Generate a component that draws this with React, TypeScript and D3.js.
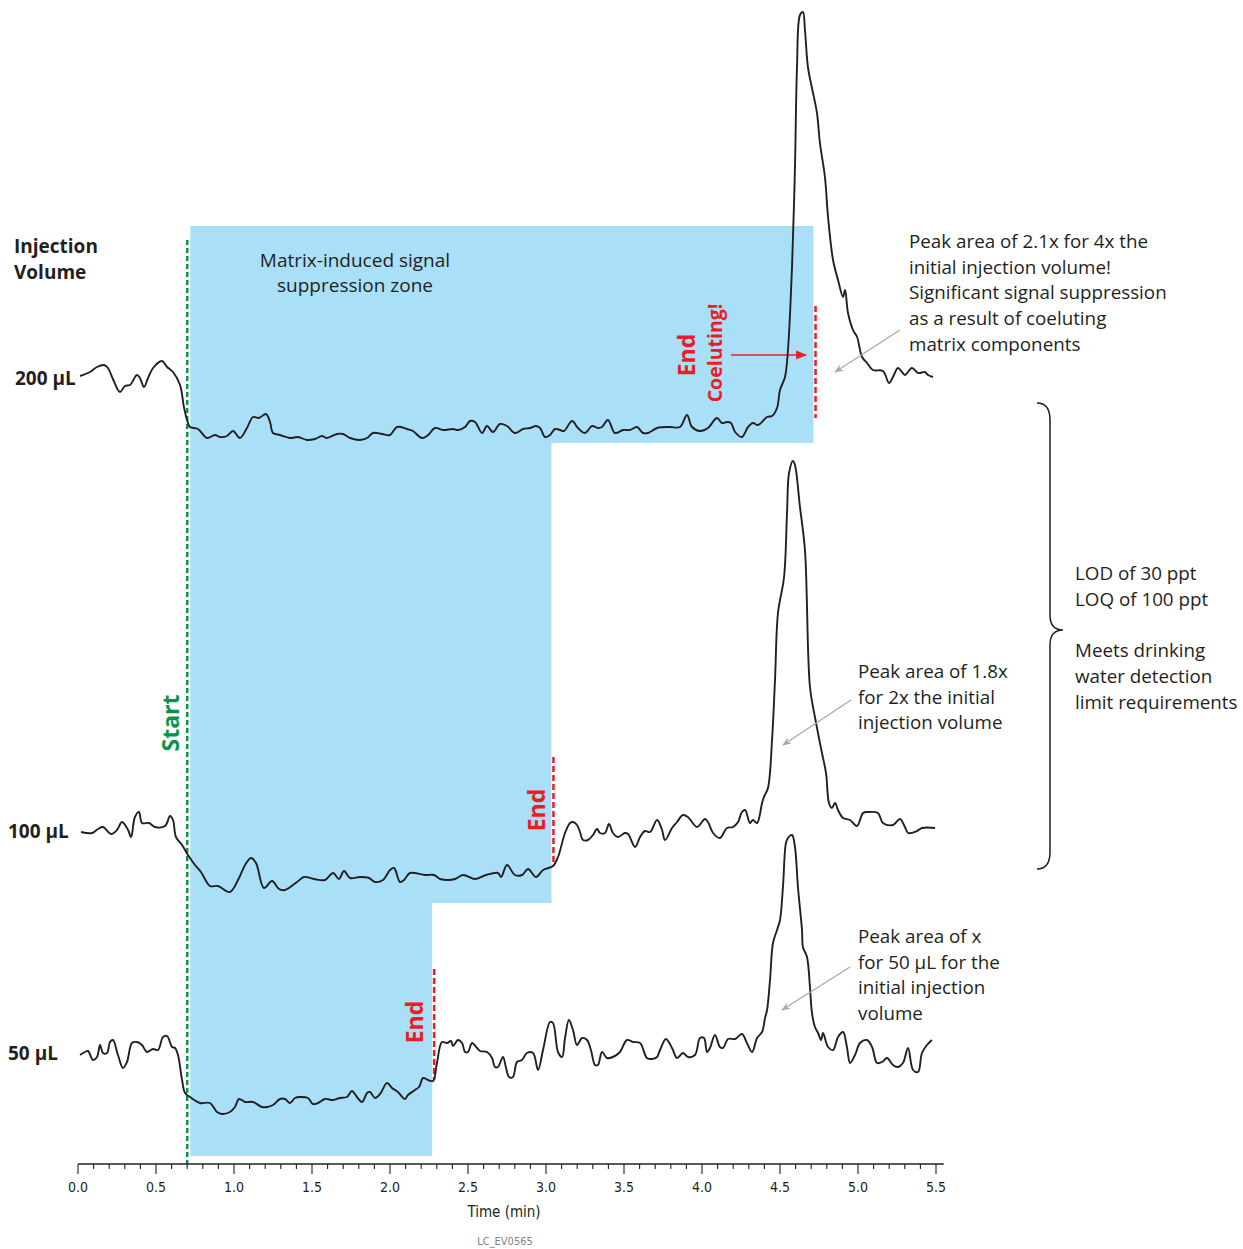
import React from "react";
import * as d3 from "d3";

// time (min), signal (arbitrary units)
const trace200: [number, number][] = [
  [0.013, 69], [0.077, 73], [0.122, 78], [0.167, 80], [0.192, 77], [0.224, 66], [0.269, 53], [0.301, 59],
  [0.333, 60], [0.378, 70], [0.397, 67], [0.423, 58], [0.449, 67], [0.481, 77], [0.538, 84], [0.571, 78],
  [0.609, 73], [0.654, 60], [0.679, 38], [0.699, 25], [0.718, 18], [0.769, 16], [0.827, 7], [0.878, 10],
  [0.91, 8], [0.955, 9], [0.994, 14], [1.038, 7], [1.083, 17], [1.122, 28], [1.16, 27], [1.205, 31],
  [1.231, 23], [1.25, 12], [1.295, 10], [1.359, 7], [1.41, 8], [1.468, 5], [1.519, 6], [1.564, 9],
  [1.596, 7], [1.66, 11], [1.699, 11], [1.744, 7], [1.808, 5], [1.853, 7], [1.891, 12], [1.949, 11],
  [2.0, 10], [2.045, 18], [2.109, 16], [2.147, 14], [2.205, 7], [2.244, 10], [2.288, 17], [2.34, 15],
  [2.404, 16], [2.436, 15], [2.481, 18], [2.513, 24], [2.545, 23], [2.59, 12], [2.622, 19], [2.66, 13],
  [2.705, 21], [2.75, 19], [2.801, 12], [2.853, 16], [2.897, 17], [2.936, 19], [2.962, 17], [2.994, 8],
  [3.026, 10], [3.058, 16], [3.09, 15], [3.115, 14], [3.167, 24], [3.205, 17], [3.25, 12], [3.295, 19],
  [3.333, 17], [3.359, 18], [3.397, 25], [3.442, 12], [3.494, 15], [3.538, 15], [3.583, 18], [3.622, 12],
  [3.654, 12], [3.712, 17], [3.795, 18], [3.859, 18], [3.904, 30], [3.936, 18], [3.987, 14], [4.038, 17],
  [4.096, 27], [4.128, 22], [4.16, 23], [4.186, 22], [4.212, 13], [4.256, 8], [4.295, 18], [4.327, 22],
  [4.359, 20], [4.417, 28], [4.449, 29], [4.481, 37], [4.5, 55], [4.532, 68], [4.551, 95], [4.577, 178],
  [4.596, 278], [4.609, 378], [4.628, 430], [4.647, 433], [4.66, 415], [4.679, 378], [4.705, 357], [4.737, 332],
  [4.756, 302], [4.788, 268], [4.808, 228], [4.84, 185], [4.872, 165], [4.904, 148], [4.917, 155], [4.936, 132],
  [4.968, 115], [4.994, 108], [5.026, 88], [5.058, 82], [5.096, 75], [5.16, 74], [5.199, 62], [5.224, 68],
  [5.256, 77], [5.282, 73], [5.301, 70], [5.346, 77], [5.385, 72], [5.429, 73], [5.449, 70], [5.481, 68],
];

const trace100: [number, number][] = [
  [0.019, 68], [0.09, 67], [0.128, 71], [0.16, 73], [0.212, 66], [0.25, 70], [0.282, 78], [0.321, 70],
  [0.34, 63], [0.365, 83], [0.391, 88], [0.41, 77], [0.455, 77], [0.494, 73], [0.558, 74], [0.59, 84],
  [0.609, 80], [0.628, 63], [0.667, 55], [0.705, 45], [0.75, 35], [0.788, 28], [0.846, 14], [0.897, 14],
  [0.974, 8], [1.032, 22], [1.071, 35], [1.109, 42], [1.141, 37], [1.192, 12], [1.244, 19], [1.288, 11],
  [1.327, 10], [1.404, 18], [1.449, 23], [1.513, 21], [1.583, 20], [1.635, 27], [1.673, 21], [1.705, 29],
  [1.744, 22], [1.808, 23], [1.865, 22], [1.904, 18], [1.955, 20], [2.0, 30], [2.026, 32], [2.064, 18],
  [2.09, 20], [2.128, 27], [2.224, 25], [2.282, 25], [2.321, 21], [2.372, 20], [2.417, 21], [2.468, 25],
  [2.545, 21], [2.615, 25], [2.692, 27], [2.712, 23], [2.75, 35], [2.801, 25], [2.846, 25], [2.885, 31],
  [2.936, 23], [2.981, 30], [3.045, 34], [3.077, 43], [3.122, 67], [3.154, 77], [3.173, 78], [3.199, 75],
  [3.218, 68], [3.237, 60], [3.269, 60], [3.301, 65], [3.327, 71], [3.346, 67], [3.378, 67], [3.404, 76],
  [3.429, 67], [3.462, 63], [3.506, 67], [3.526, 66], [3.571, 53], [3.603, 63], [3.635, 69], [3.667, 68],
  [3.712, 80], [3.744, 70], [3.763, 60], [3.808, 72], [3.84, 78], [3.878, 85], [3.91, 83], [3.968, 73],
  [4.019, 81], [4.038, 78], [4.071, 67], [4.115, 62], [4.16, 72], [4.199, 73], [4.231, 78], [4.256, 88],
  [4.276, 90], [4.308, 77], [4.327, 80], [4.353, 77], [4.385, 97], [4.397, 103], [4.423, 112], [4.449, 160],
  [4.468, 220], [4.487, 287], [4.526, 323], [4.545, 387], [4.558, 427], [4.583, 439], [4.596, 435], [4.628, 393],
  [4.66, 350], [4.692, 213], [4.724, 183], [4.769, 147], [4.795, 127], [4.814, 97], [4.833, 92], [4.853, 97],
  [4.872, 90], [4.904, 82], [4.949, 80], [4.994, 74], [5.032, 87], [5.064, 88], [5.128, 87], [5.16, 77],
  [5.224, 75], [5.269, 81], [5.301, 73], [5.321, 67], [5.378, 69], [5.41, 72], [5.494, 72],
];

const trace50: [number, number][] = [
  [0.013, 65], [0.045, 68], [0.064, 69], [0.096, 60], [0.122, 63], [0.141, 75], [0.16, 67], [0.186, 67],
  [0.205, 78], [0.224, 80], [0.256, 65], [0.288, 52], [0.314, 58], [0.346, 77], [0.378, 78], [0.41, 75],
  [0.442, 68], [0.481, 71], [0.513, 70], [0.545, 83], [0.571, 84], [0.603, 73], [0.622, 72], [0.641, 65],
  [0.667, 40], [0.686, 27], [0.718, 23], [0.782, 17], [0.846, 17], [0.891, 8], [0.923, 6], [0.974, 8],
  [1.006, 13], [1.032, 21], [1.071, 18], [1.122, 18], [1.179, 13], [1.212, 13], [1.25, 15], [1.295, 21],
  [1.327, 21], [1.359, 17], [1.391, 22], [1.423, 23], [1.474, 22], [1.506, 16], [1.538, 17], [1.583, 21],
  [1.635, 20], [1.679, 22], [1.724, 23], [1.756, 29], [1.788, 23], [1.821, 18], [1.853, 27], [1.872, 28],
  [1.904, 22], [1.936, 26], [1.981, 37], [2.013, 32], [2.051, 28], [2.096, 21], [2.115, 25], [2.16, 30],
  [2.186, 33], [2.212, 42], [2.244, 40], [2.276, 39], [2.301, 57], [2.333, 78], [2.365, 77], [2.391, 79],
  [2.404, 74], [2.436, 80], [2.462, 77], [2.481, 68], [2.5, 68], [2.526, 77], [2.558, 72], [2.577, 69],
  [2.622, 68], [2.654, 62], [2.673, 53], [2.692, 53], [2.724, 63], [2.744, 52], [2.763, 43], [2.788, 43],
  [2.814, 58], [2.846, 60], [2.878, 67], [2.917, 67], [2.949, 50], [2.981, 70], [3.026, 98], [3.045, 97],
  [3.077, 68], [3.103, 63], [3.122, 82], [3.147, 100], [3.173, 90], [3.199, 75], [3.231, 82], [3.263, 80],
  [3.288, 70], [3.314, 55], [3.333, 55], [3.359, 68], [3.391, 62], [3.429, 63], [3.474, 68], [3.519, 80],
  [3.558, 78], [3.603, 77], [3.647, 62], [3.679, 61], [3.712, 63], [3.731, 70], [3.769, 81], [3.808, 72],
  [3.84, 62], [3.878, 67], [3.91, 63], [3.955, 65], [3.987, 82], [4.013, 82], [4.032, 68], [4.051, 72],
  [4.083, 85], [4.115, 73], [4.135, 72], [4.167, 81], [4.212, 81], [4.256, 86], [4.288, 77], [4.321, 68],
  [4.353, 82], [4.385, 88], [4.404, 102], [4.417, 110], [4.436, 140], [4.455, 177], [4.481, 190], [4.5, 200],
  [4.519, 233], [4.538, 277], [4.551, 282], [4.577, 285], [4.596, 273], [4.615, 233], [4.641, 190], [4.647, 173],
  [4.673, 163], [4.692, 133], [4.705, 107], [4.724, 93], [4.744, 87], [4.763, 80], [4.776, 87], [4.808, 73],
  [4.84, 70], [4.872, 83], [4.904, 88], [4.929, 73], [4.949, 57], [4.981, 65], [5.013, 77], [5.058, 80],
  [5.09, 73], [5.122, 57], [5.154, 58], [5.186, 62], [5.224, 55], [5.256, 53], [5.288, 57], [5.321, 72],
  [5.353, 50], [5.385, 48], [5.41, 67], [5.442, 75], [5.474, 80],
];

const volumes = ["200 µL", "100 µL", "50 µL"];
const zoneStart = 0.72;
const startMarker = 0.7;
const zoneEnds = [4.715, 3.035, 2.27];
const xTicks = d3.range(0, 5.51, 0.1);

const annotTop = [
  "Peak area of 2.1x for 4x the",
  "initial injection volume!",
  "Significant signal suppression",
  "as a result of coeluting",
  "matrix components",
];
const annotMid = ["Peak area of 1.8x", "for 2x the initial", "injection volume"];
const annotLow = ["Peak area of x", "for 50 µL for the", "initial injection", "volume"];
const annotRight = ["LOD of 30 ppt", "LOQ of 100 ppt", "", "Meets drinking", "water detection", "limit requirements"];

const W = 1243;
const H = 1249;
const INK = "#231f20";
const RED = "#ed1c24";
const GREEN = "#0a9447";
const GREY = "#a7a9ac";
const BLUE = "#aadff8";
const FONT = "'Open Sans', 'Noto Sans', sans-serif";
const NARROW = "'Liberation Sans Narrow', 'DejaVu Sans Condensed', sans-serif";

// layout of the three stacked traces
const rows = [
  { data: trace200, zero: 445, zoneBottom: 443, labelX: 15, labelY: 385, endX: 686, endY: 355, red: [306, 418] },
  { data: trace100, zero: 900, zoneBottom: 903, labelX: 8, labelY: 838, endX: 536, endY: 810, red: [757, 866] },
  { data: trace50, zero: 1120, zoneBottom: 1156, labelX: 8, labelY: 1060, endX: 414, endY: 1022, red: [969, 1080] },
];

const App = () => {
  const x = d3.scaleLinear().domain([0, 5.5]).range([78, 936]);
  const axisY = 1164;
  const zoneTop = 226;

  const zonePts: [number, number][] = [
    [x(zoneStart), zoneTop],
    [x(zoneEnds[0]), zoneTop],
    [x(zoneEnds[0]), rows[0].zoneBottom],
    [x(zoneEnds[1]), rows[0].zoneBottom],
    [x(zoneEnds[1]), rows[1].zoneBottom],
    [x(zoneEnds[2]), rows[1].zoneBottom],
    [x(zoneEnds[2]), rows[2].zoneBottom],
    [x(zoneStart), rows[2].zoneBottom],
  ];

  const lines = rows.map((r) => {
    const y = d3.scaleLinear().domain([0, 450]).range([r.zero, r.zero - 450]);
    return d3
      .line<[number, number]>()
      .x((d) => x(d[0]))
      .y((d) => y(d[1]))
      .curve(d3.curveCatmullRom.alpha(0.5))(r.data) as string;
  });

  const textBlock = (ls: string[], x0: number, y0: number, lh = 25.7) =>
    ls.map((s, i) => (
      <text key={i} x={x0} y={y0 + i * lh} fontFamily={FONT} fontSize={18.8} fill={INK}>
        {s}
      </text>
    ));

  return (
    <svg width={W} height={H} style={{ position: "absolute", left: 0, top: 0, background: "#fff" }}>
      <defs>
        <marker id="greyHead" viewBox="0 0 10 10" refX="9" refY="5" markerWidth="9" markerHeight="9" orient="auto" markerUnits="userSpaceOnUse">
          <path d="M0,1 L10,5 L0,9 L3,5 Z" fill={GREY} />
        </marker>
        <marker id="redHead" viewBox="0 0 10 10" refX="9" refY="5" markerWidth="11" markerHeight="11" orient="auto" markerUnits="userSpaceOnUse">
          <path d="M0,1 L10,5 L0,9 Z" fill={RED} />
        </marker>
      </defs>

      {/* suppression zone */}
      <polygon points={zonePts.map((p) => p.join(",")).join(" ")} fill={BLUE} />

      <text fontFamily={FONT} fontSize={19} fill={INK} textAnchor="middle">
        <tspan x={355} y={267}>Matrix-induced signal</tspan>
        <tspan x={355} y={292}>suppression zone</tspan>
      </text>

      {/* start marker */}
      <line x1={x(startMarker)} x2={x(startMarker)} y1={240} y2={axisY} stroke={GREEN} strokeWidth={2.5} strokeDasharray="5,3" />
      <text transform={`translate(170,723) rotate(-90)`} textAnchor="middle" dominantBaseline="central"
        fontFamily={FONT} fontWeight={700} fontSize={23} fill={GREEN}>Start</text>

      {/* end markers */}
      {rows.map((r, i) => (
        <g key={i}>
          <line x1={x(zoneEnds[i]) + 2} x2={x(zoneEnds[i]) + 2} y1={r.red[0]} y2={r.red[1]} stroke={RED} strokeWidth={2.5} strokeDasharray="6,3" />
          <text transform={`translate(${r.endX},${r.endY}) rotate(-90)`} textAnchor="middle" dominantBaseline="central"
            fontFamily={FONT} fontWeight={700} fontSize={23} fill={RED}>End</text>
        </g>
      ))}
      <text transform="translate(714,353) rotate(-90)" textAnchor="middle" dominantBaseline="central"
        fontFamily={FONT} fontWeight={700} fontSize={19.5} fill={RED}>Coeluting!</text>
      <line x1={731} y1={355} x2={806} y2={355} stroke={RED} strokeWidth={1.5} markerEnd="url(#redHead)" />

      {/* traces */}
      {lines.map((d, i) => (
        <path key={i} d={d} fill="none" stroke={INK} strokeWidth={1.9} strokeLinejoin="round" />
      ))}

      {/* row labels */}
      <text fontFamily={FONT} fontWeight={700} fontSize={19} fill={INK}>
        <tspan x={14} y={253}>Injection</tspan>
        <tspan x={14} y={279}>Volume</tspan>
      </text>
      {rows.map((r, i) => (
        <text key={i} x={r.labelX} y={r.labelY} fontFamily={FONT} fontWeight={700} fontSize={19} fill={INK}>
          {volumes[i]}
        </text>
      ))}

      {/* annotations */}
      {textBlock(annotTop, 909, 248)}
      {textBlock(annotMid, 858, 678)}
      {textBlock(annotLow, 858, 943)}
      {textBlock(annotRight, 1075, 580)}
      <line x1={900} y1={330} x2={835} y2={372} stroke={GREY} strokeWidth={1.3} markerEnd="url(#greyHead)" />
      <line x1={851} y1={700} x2={783} y2={745} stroke={GREY} strokeWidth={1.3} markerEnd="url(#greyHead)" />
      <line x1={850} y1={967} x2={782} y2={1010} stroke={GREY} strokeWidth={1.3} markerEnd="url(#greyHead)" />

      {/* brace */}
      <path d="M1037,403 Q1050,403 1050,420 L1050,615 Q1050,630 1063,630 Q1050,630 1050,645 L1050,852 Q1050,869 1037,869"
        fill="none" stroke={INK} strokeWidth={1.5} />

      {/* x axis */}
      <line x1={x(0)} x2={x(5.55)} y1={axisY} y2={axisY} stroke={INK} strokeWidth={1.5} />
      {xTicks.map((t, i) => {
        const major = i % 5 === 0;
        return (
          <g key={i}>
            <line x1={x(t)} x2={x(t)} y1={axisY} y2={axisY + (major ? 10 : 5)} stroke={INK} strokeWidth={1.1} />
            {major && (
              <text x={x(t)} y={axisY + 28} textAnchor="middle" fontFamily={NARROW} fontSize={14} fill={INK}>
                {d3.format(".1f")(t)}
              </text>
            )}
          </g>
        );
      })}
      <text x={504} y={1217} textAnchor="middle" fontFamily={NARROW} fontSize={15} fill={INK}>Time (min)</text>
      <text x={505} y={1245} textAnchor="middle" fontFamily={NARROW} fontSize={11} fill="#808285">LC_EV0565</text>
    </svg>
  );
};

export default App;
